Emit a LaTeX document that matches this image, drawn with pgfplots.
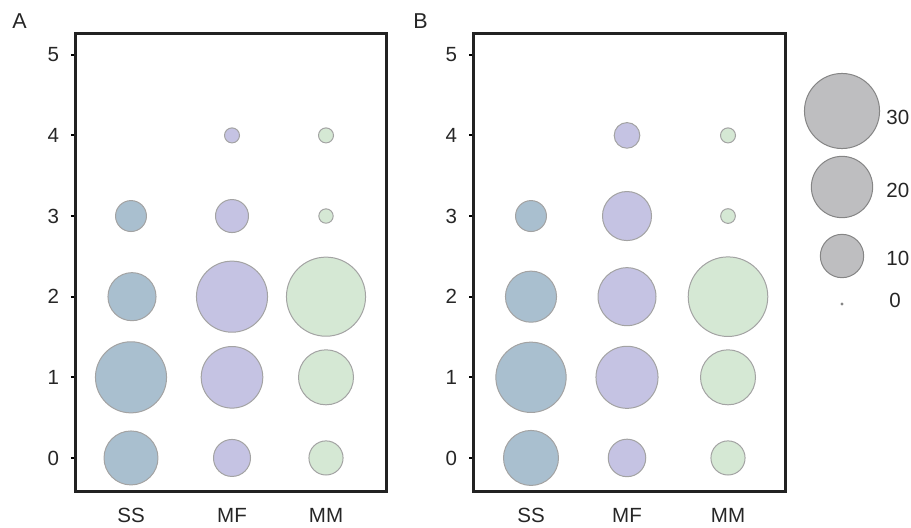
\documentclass[border=0pt]{standalone}
\usepackage{fontspec}
\setmainfont{Liberation Sans}
\usepackage{pgfplots}
\pgfplotsset{compat=1.18}
\definecolor{ssc}{HTML}{A9BFCF}
\definecolor{mfc}{HTML}{C5C3E3}
\definecolor{mmc}{HTML}{D5E8D4}
\definecolor{lgc}{HTML}{BEBEC0}
\definecolor{edge}{HTML}{A3A3A3}
\definecolor{ledge}{HTML}{858585}
\definecolor{axc}{HTML}{222222}
\pgfplotsset{
  bub/.style n args={2}{scatter, only marks, mark=*,
    scatter/use mapped color={draw=#2, fill=#1, line width=0.5bp},
    visualization depends on={max(3.44*sqrt(\thisrow{n}),0.5) \as \rad},
    scatter/@pre marker code/.append style={/tikz/mark size=\rad}},
  panel/.style={scale only axis, height=229bp, anchor=south west,
    ymin=-0.41, ymax=5.27, ytick={0,...,5}, ytick pos=left,
    axis line style={line width=1.5bp, axc},
    ytick style={line width=1bp, black}, tick align=outside,
    major tick length=2bp,
    xtick style={draw=none},
    clip=false,
    tick label style={font=\fontsize{10.3}{12}\selectfont, black!85},
    yticklabel style={xshift=-2.5bp},
    xticklabel style={yshift=-3.2bp},
    /pgf/number format/assume math mode=true},
}
\begin{document}
\begin{tikzpicture}
\useasboundingbox (0,0) rectangle (455.5bp,-264bp);
% Panel A
\begin{axis}[panel, at={(37.5bp,-245.5bp)}, width=155.5bp,
  xmin=75, xmax=386, xtick={131,232,326}, xticklabels={SS,MF,MM}]
\addplot[bub={ssc}{edge}] table {
x y n
131 0 15.5
131 1 26.9
132 2 12.3
131 3 5.1
};
\addplot[bub={mfc}{edge}] table {
x y n
232 0 7.3
232 1 20.2
232 2 26.9
232 3 5.8
232 4 1.2
};
\addplot[bub={mmc}{edge}] table {
x y n
326 0 6.2
326 1 16.1
326 2 33.3
326 3 1.1
326 4 1.2
};
\end{axis}
% Panel B
\begin{axis}[panel, at={(236.5bp,-245.5bp)}, width=156bp,
  xmin=473, xmax=785, xtick={531,627,728}, xticklabels={SS,MF,MM}]
\addplot[bub={ssc}{edge}] table {
x y n
531 0 16.1
531 1 26.3
531 2 13.9
531 3 5.1
};
\addplot[bub={mfc}{edge}] table {
x y n
627 0 7.5
627 1 20.5
627 2 17.9
627 3 12.8
627 4 3.5
};
\addplot[bub={mmc}{edge}] table {
x y n
728 0 6.2
728 1 16.1
728 2 33.7
728 3 1.15
728 4 1.2
};
\end{axis}
% Size legend and panel letters
\begin{axis}[scale only axis, width=455.5bp, height=264bp, anchor=south west,
  at={(0,-264bp)}, xmin=0, xmax=911, ymin=0, ymax=528, y dir=reverse,
  hide axis, clip=false]
\addplot[bub={lgc}{ledge}] table {
x y n
842 111 30
842 187 20
842 256 10
842 304 0
};
\node[anchor=west, font=\fontsize{10.3}{12}\selectfont, text=black!85, inner sep=0pt] at (axis cs:886,117) {30};
\node[anchor=west, font=\fontsize{10.3}{12}\selectfont, text=black!85, inner sep=0pt] at (axis cs:886,190) {20};
\node[anchor=west, font=\fontsize{10.3}{12}\selectfont, text=black!85, inner sep=0pt] at (axis cs:886,258) {10};
\node[anchor=west, font=\fontsize{10.3}{12}\selectfont, text=black!85, inner sep=0pt] at (axis cs:889,300) {0};
\node[anchor=base west, font=\fontsize{10.8}{12}\selectfont, text=black!85, inner sep=0pt] at (axis cs:12,28) {A};
\node[anchor=base west, font=\fontsize{10.8}{12}\selectfont, text=black!85, inner sep=0pt] at (axis cs:413,28) {B};
\end{axis}
\end{tikzpicture}
\end{document}
